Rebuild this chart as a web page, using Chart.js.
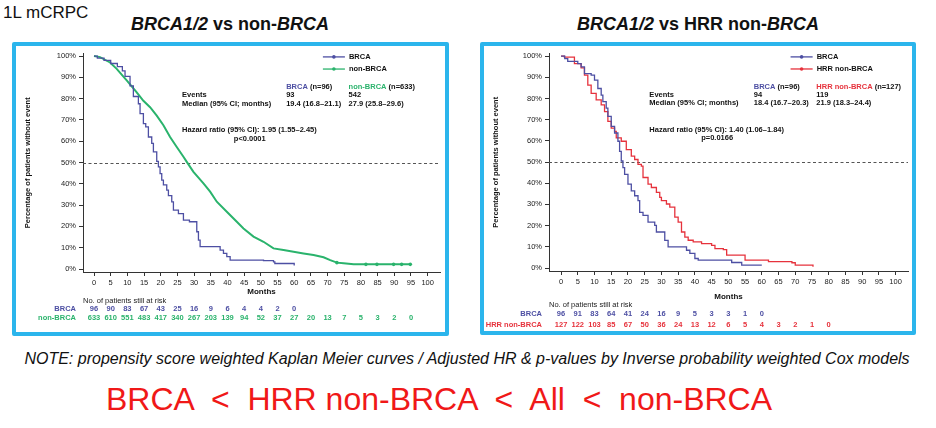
<!DOCTYPE html>
<html>
<head>
<meta charset="utf-8">
<script src="https://cdn.jsdelivr.net/npm/chart.js@4.4.1/dist/chart.umd.min.js"></script>
<style>
body { margin:0; width:936px; height:428px; background:#fff; position:relative; overflow:hidden; font-family:"Liberation Sans", Arial, sans-serif; }
.txt { position:absolute; white-space:pre; color:#111; line-height:1; }
.panel { position:absolute; border:4px solid #2bb5ec; border-radius:2px; background:#fff; }
canvas { display:block; }
</style>
</head>
<body>
<div class="txt" style="left:3px; top:4px; font-size:17px;">1L mCRPC</div>
<div class="txt" style="left:230px; top:15px; font-size:18px; font-weight:bold; transform:translateX(-50%);"><i>BRCA1/2</i> vs non-<i>BRCA</i></div>
<div class="txt" style="left:698px; top:15px; font-size:18px; font-weight:bold; transform:translateX(-50%);"><i>BRCA1/2</i> vs HRR non-<i>BRCA</i></div>

<div class="panel" style="left:12px; top:42px;"><canvas id="chartA" width="429" height="286"></canvas></div>
<div class="panel" style="left:480px; top:42px;"><canvas id="chartB" width="428" height="285"></canvas></div>

<div class="txt" style="left:467px; top:351px; font-size:16px; font-style:italic; transform:translateX(-50%);">NOTE: propensity score weighted Kaplan Meier curves / Adjusted HR &amp; p-values by Inverse probability weighted Cox models</div>
<div class="txt" style="left:106px; top:383px; font-size:32px; color:#f01818;">BRCA  &lt;  HRR non-BRCA  &lt;  All  &lt;  non-BRCA</div>

<script>
// axes
const monthTicks = [0, 5, 10, 15, 20, 25, 30, 35, 40, 45, 50, 55, 60, 65, 70, 75, 80, 85, 90, 95, 100];
const pctTicks = [0, 10, 20, 30, 40, 50, 60, 70, 80, 90, 100];
const riskMonths = [0, 5, 10, 15, 20, 25, 30, 35, 40, 45, 50, 55, 60, 65, 70, 75, 80, 85, 90, 95];

// panel A : BRCA vs non-BRCA
const brcaMonthsA = [0, 1, 3, 5, 7, 8.5, 9.3, 10.8, 11.8, 13.3, 13.8, 14.8, 15.5, 16.3, 17.3, 17.8, 18.8, 19.3, 19.8, 20.3, 20.8, 21.8, 22.3, 23.3, 23.8, 25.3, 26.8, 28.6, 30.8, 31.3, 31.8, 36.8, 37.8, 38.8, 39.8, 40.8, 50.8, 53.8, 54.2, 60];
const brcaPctA = [100, 99, 98, 96.5, 95, 93, 90.5, 86, 81, 77.6, 73, 68.3, 66.7, 62, 59, 55, 50.5, 48, 44.8, 41.7, 39.5, 37, 34.5, 31.5, 27.7, 26, 23, 22.2, 17.5, 13.6, 10.5, 10.5, 8.9, 7.3, 5.8, 4.2, 3.9, 3.4, 2.6, 1.6];
const nonBrcaMonths = [0, 1.8, 4.8, 6.8, 9.8, 12.8, 14.8, 16.8, 18.8, 20.8, 22.8, 24.8, 26.8, 27.8, 29.8, 32.8, 34.8, 36.8, 39.8, 42.8, 44.8, 47.8, 50.8, 53.8, 56.8, 59.8, 62.8, 65.8, 68.8, 70.8, 72.8, 74.8, 77.8, 94.8];
const nonBrcaPct = [100, 99.5, 97, 94, 88.6, 83, 79, 76, 72, 67.5, 62, 57.3, 52.7, 50.3, 45.6, 40.2, 36.3, 31.6, 26.9, 22.2, 19, 15.2, 12.8, 9.7, 8.9, 8.1, 7.3, 6.6, 5.5, 4.2, 3, 2.7, 2.2, 2.2];
const nonBrcaCensorMonths = [72.8, 81.5, 84.8, 89.8, 92.2, 94.8];
const nonBrcaCensorPct = [3, 2.2, 2.2, 2.2, 2.2, 2.2];
const brcaRiskA = [96, 90, 83, 67, 43, 25, 16, 9, 6, 4, 4, 2, 0];
const nonBrcaRisk = [633, 610, 551, 483, 417, 340, 267, 203, 139, 94, 52, 37, 27, 20, 13, 7, 5, 3, 2, 0];

// panel B : BRCA vs HRR non-BRCA
const brcaMonthsB = [0, 1.1, 2, 5, 6, 7, 9, 10, 11, 12, 12.5, 13.5, 14, 15, 16, 17, 17.5, 18, 18.5, 19, 20, 21, 22, 23, 23.5, 24.5, 26, 28, 28.5, 31, 32, 37.5, 38.5, 40, 41, 51, 54, 60];
const brcaPctB = [100, 98.8, 97.5, 96.4, 94.9, 91.7, 91, 88.6, 84.7, 81.6, 78.5, 75.4, 71.5, 66.8, 63.7, 59.8, 55, 50.5, 47.4, 44.2, 39.6, 36.4, 34.1, 31.8, 26.3, 24.8, 21.7, 20.1, 17, 13, 10, 8.4, 6.9, 4.5, 3.7, 2.6, 1.4, 1.4];
const hrrMonths = [0, 1, 4, 6, 7, 8, 9, 10.5, 12, 13, 14, 15, 16, 16.5, 18, 19.5, 21, 22, 23, 24, 24.5, 26, 27, 28.5, 29.5, 30, 31.5, 32.5, 34, 35, 36, 37, 38, 39.5, 42, 45, 46, 48.5, 49.5, 55, 62, 69, 70, 75.3];
const hrrPct = [100, 99.5, 96.4, 94.4, 91, 86.3, 82.4, 79.3, 77, 73.8, 69.2, 66, 64.5, 61.4, 59.8, 55.9, 52.8, 51.2, 48.9, 48.1, 42.7, 39.6, 38, 35.7, 33.3, 31.8, 30.2, 28.7, 24, 21.7, 17, 14.6, 13.1, 12.3, 11.5, 10.7, 9.2, 8.7, 6.1, 3.7, 3, 2.5, 1.4, 0.6];
const brcaRiskB = [96, 91, 83, 64, 41, 24, 16, 9, 5, 3, 3, 1, 0];
const hrrRisk = [127, 122, 103, 85, 67, 50, 36, 24, 13, 12, 6, 5, 4, 3, 2, 1, 0];

const BLUE = '#4d4fa3';
const GREEN = '#2ab36c';
const RED = '#e6323c';
const FONT = '"Liberation Sans", Arial, sans-serif';

function toXY(months, pct) {
    return months.map((m, i) => ({ x: m, y: pct[i] }));
}

// text, legend, 50% line and at-risk table drawn through the chart scales
const kmExtras = {
    id: 'kmExtras',
    beforeDatasetsDraw(chart) {
        const { ctx, chartArea: a, scales: { y } } = chart;
        ctx.save();
        ctx.setLineDash([3, 2.5]);
        ctx.strokeStyle = '#555';
        ctx.lineWidth = 1;
        const py = Math.round(y.getPixelForValue(50)) + 0.5;
        ctx.beginPath();
        ctx.moveTo(a.left, py);
        ctx.lineTo(a.right, py);
        ctx.stroke();
        ctx.restore();
    },
    afterDraw(chart, args, o) {
        const { ctx, chartArea: a, scales: { x, y } } = chart;
        ctx.save();
        ctx.textBaseline = 'middle';
        const bold = 'bold 7.5px ' + FONT;
        ctx.font = bold;

        // legend
        o.series.forEach((s, i) => {
            const ly = y.getPixelForValue([99.6, 93.9][i]);
            const x1 = x.getPixelForValue(68.6), x2 = x.getPixelForValue(75.2);
            ctx.strokeStyle = s.color;
            ctx.lineWidth = 1.3;
            ctx.beginPath(); ctx.moveTo(x1, ly); ctx.lineTo(x2, ly); ctx.stroke();
            ctx.fillStyle = s.color;
            ctx.beginPath(); ctx.arc((x1 + x2) / 2, ly, 1.8, 0, Math.PI * 2); ctx.fill();
            ctx.fillStyle = '#111';
            ctx.textAlign = 'left';
            ctx.fillText(s.label, x.getPixelForValue(76.4), ly);
        });

        // stats table
        const colX = [x.getPixelForValue(57.6), x.getPixelForValue(76.3)];
        const labX = x.getPixelForValue(26.4);
        ctx.textAlign = 'left';
        o.series.forEach((s, i) => {
            const hy = y.getPixelForValue(85.5);
            ctx.fillStyle = s.color;
            ctx.fillText(s.label, colX[i], hy);
            const w = ctx.measureText(s.label + ' ').width;
            ctx.fillStyle = '#111';
            ctx.fillText('(n=' + s.n + ')', colX[i] + w, hy);
            ctx.fillText(s.events, colX[i], y.getPixelForValue(81.6));
            ctx.fillText(s.median, colX[i], y.getPixelForValue(77.7));
        });
        ctx.fillStyle = '#111';
        ctx.fillText('Events', labX, y.getPixelForValue(81.6));
        ctx.fillText('Median (95% CI; months)', labX, y.getPixelForValue(77.7));
        ctx.fillText(o.hr, labX, y.getPixelForValue(65.2));
        ctx.fillText(o.p, x.getPixelForValue(41.9), y.getPixelForValue(61.3));

        // at-risk table
        ctx.font = '7.5px ' + FONT;
        ctx.fillStyle = '#222';
        ctx.textAlign = 'left';
        ctx.fillText('No. of patients still at risk', a.left, a.bottom + o.riskY[0]);
        ctx.font = bold;
        o.series.forEach((s, i) => {
            const ry = a.bottom + o.riskY[i + 1];
            ctx.fillStyle = s.color;
            ctx.textAlign = 'right';
            ctx.fillText(s.label, a.left - 7, ry);
            ctx.textAlign = 'center';
            s.risk.forEach((v, j) => ctx.fillText(String(v), x.getPixelForValue(riskMonths[j]), ry));
        });
        ctx.restore();
    }
};

function makeKM(id, p) {
    const ctx = document.getElementById(id).getContext('2d');
    const datasets = p.series.map(s => ({
        label: s.label,
        data: s.data,
        borderColor: s.color,
        borderWidth: s.width,
        stepped: s.stepped,
        pointRadius: 0,
        fill: false
    }));
    (p.censors || []).forEach(c => datasets.push({
        label: 'censored',
        data: c.data,
        showLine: false,
        pointRadius: 1.8,
        pointBackgroundColor: c.color,
        pointBorderColor: c.color,
        pointBorderWidth: 0
    }));
    return new Chart(ctx, {
        type: 'line',
        data: { datasets },
        options: {
            responsive: false,
            animation: false,
            devicePixelRatio: 1,
            layout: { padding: { left: 0, top: p.padTop, right: p.padRight, bottom: p.padBottom } },
            plugins: {
                legend: { display: false },
                tooltip: { enabled: false },
                kmExtras: p
            },
            scales: {
                x: {
                    type: 'linear', min: p.xMin, max: 103.7,
                    afterBuildTicks: sc => { sc.ticks = monthTicks.map(v => ({ value: v })); },
                    afterFit: sc => { sc.height = p.xHeight; },
                    grid: { drawOnChartArea: false, tickLength: 4, color: '#333' },
                    border: { display: true, color: '#333', width: 1 },
                    ticks: { autoSkip: false, maxRotation: 0, padding: 2, color: '#222', font: { family: FONT, size: 7.5 } },
                    title: { display: true, text: 'Months', color: '#111', padding: 0, font: { family: FONT, size: 8, weight: 'bold' } }
                },
                y: {
                    type: 'linear', min: -1.4, max: 101.2,
                    afterBuildTicks: sc => { sc.ticks = pctTicks.map(v => ({ value: v })); },
                    afterFit: sc => { sc.width = p.yWidth; },
                    grid: { drawOnChartArea: false, tickLength: 4, color: '#333' },
                    border: { display: true, color: '#333', width: 1 },
                    ticks: { padding: 3, color: '#222', font: { family: FONT, size: 7.5 }, callback: v => v + '%' },
                    title: { display: true, text: 'Percentage of patients without event', color: '#111', padding: { top: 7 }, font: { family: FONT, size: 7.5, weight: 'bold' } }
                }
            }
        },
        plugins: [kmExtras]
    });
}

makeKM('chartA', {
    xMin: -3.3, yWidth: 67, padTop: 7, padRight: 5, padBottom: 35, xHeight: 25,
    riskY: [28.7, 37, 46],
    hr: 'Hazard ratio (95% CI): 1.95 (1.55\u20132.45)', p: 'p<0.0001',
    series: [
        { label: 'BRCA', color: BLUE, width: 1.3, stepped: true, data: toXY(brcaMonthsA, brcaPctA), n: 96, events: '93', median: '19.4 (16.8\u201321.1)', risk: brcaRiskA },
        { label: 'non-BRCA', color: GREEN, width: 2, stepped: false, data: toXY(nonBrcaMonths, nonBrcaPct), n: 633, events: '542', median: '27.9 (25.8\u201329.6)', risk: nonBrcaRisk }
    ],
    censors: [{ color: GREEN, data: toXY(nonBrcaCensorMonths, nonBrcaCensorPct) }]
});

makeKM('chartB', {
    xMin: -3.6, yWidth: 65, padTop: 6, padRight: 4, padBottom: 29.5, xHeight: 30.5,
    riskY: [34, 42.7, 54.3],
    hr: 'Hazard ratio (95% CI): 1.40 (1.06\u20131.84)', p: 'p=0.0166',
    series: [
        { label: 'BRCA', color: BLUE, width: 1.3, stepped: true, data: toXY(brcaMonthsB, brcaPctB), n: 96, events: '94', median: '18.4 (16.7\u201320.3)', risk: brcaRiskB },
        { label: 'HRR non-BRCA', color: RED, width: 1.3, stepped: true, data: toXY(hrrMonths, hrrPct), n: 127, events: '119', median: '21.9 (18.3\u201324.4)', risk: hrrRisk }
    ]
});
</script>
</body>
</html>
